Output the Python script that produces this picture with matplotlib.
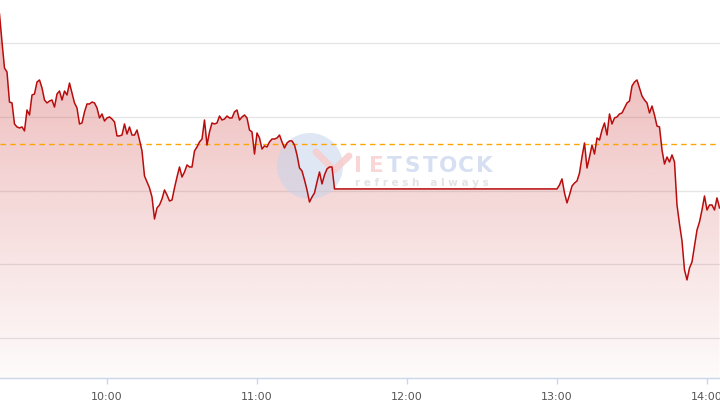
import numpy as np
import matplotlib
matplotlib.use('Agg')
import matplotlib.pyplot as plt
from matplotlib.patches import Ellipse, Polygon

# Intraday index values, one per minute
morning_start = '09:17'
morning_prices = [
    1292.00, 1290.10, 1288.33, 1288.06, 1286.02, 1285.96, 1284.53, 1284.33, 1284.26, 1284.33,
    1284.06, 1285.48, 1285.14, 1286.50, 1286.57, 1287.38, 1287.52, 1286.98, 1286.16, 1285.96,
    1286.09, 1286.16, 1285.68, 1286.57, 1286.77, 1286.16, 1286.77, 1286.50, 1287.31, 1286.64,
    1285.96, 1285.62, 1284.53, 1284.60, 1285.35, 1285.89, 1285.89, 1286.02, 1285.96, 1285.62,
    1284.94, 1285.21, 1284.73, 1284.94, 1285.01, 1284.87, 1284.67, 1283.72, 1283.72, 1283.78,
    1284.53, 1283.85, 1284.33, 1283.78, 1283.78, 1284.12, 1283.44, 1282.70, 1281.00, 1280.59,
    1280.19, 1279.57, 1278.08, 1278.83, 1279.03, 1279.44, 1280.05, 1279.71, 1279.30, 1279.37,
    1280.19, 1280.93, 1281.61, 1280.93, 1281.27, 1281.75, 1281.61, 1281.61, 1282.70, 1282.97,
    1283.31, 1283.51, 1284.80, 1283.10, 1283.99, 1284.60, 1284.53, 1284.60, 1285.07, 1284.80,
    1284.87, 1285.07, 1284.94, 1284.94, 1285.35, 1285.48, 1284.80, 1285.01, 1285.14, 1284.94,
    1284.12, 1283.99, 1282.49, 1283.92, 1283.58, 1282.83, 1283.04, 1282.97, 1283.31, 1283.51,
    1283.51, 1283.58, 1283.78, 1283.31, 1282.90, 1283.24, 1283.38, 1283.38, 1283.10, 1282.43,
    1281.54, 1281.34, 1280.73, 1280.05, 1279.23, 1279.57, 1279.85, 1280.59, 1281.27, 1280.46,
    1281.07, 1281.48, 1281.61, 1281.61, 1280.12,
]
afternoon_start = '13:00'
afternoon_prices = [
    1280.12, 1280.39, 1280.80, 1279.85, 1279.17, 1279.71, 1280.32, 1280.52, 1280.66, 1281.20,
    1282.29, 1283.24, 1281.54, 1282.29, 1283.10, 1282.49, 1283.58, 1283.44, 1284.12, 1284.60,
    1283.78, 1285.21, 1284.53, 1284.94, 1285.01, 1285.21, 1285.28, 1285.62, 1285.96, 1286.09,
    1287.11, 1287.38, 1287.52, 1286.98, 1286.43, 1286.16, 1285.96, 1285.28, 1285.75, 1285.14,
    1284.39, 1284.33, 1282.77, 1281.81, 1282.29, 1281.95, 1282.43, 1281.95, 1279.03, 1277.74,
    1276.59, 1274.62, 1273.94, 1274.75, 1275.16, 1276.25, 1277.33, 1277.88, 1278.69, 1279.64,
    1278.69, 1279.03, 1279.03, 1278.69, 1279.51, 1278.83,
]
reference_price = 1283.17
grid_levels = [1270, 1275, 1280, 1285, 1290]
tick_labels = ['10:00', '11:00', '12:00', '13:00', '14:00']


def to_minutes(s):
    h, m = s.split(':')
    return int(h) * 60 + int(m)


t_morning = to_minutes(morning_start) + np.arange(len(morning_prices))
t_afternoon = to_minutes(afternoon_start) + np.arange(len(afternoon_prices))
times = np.concatenate([t_morning, t_afternoon]).astype(float)
prices = np.array(morning_prices + afternoon_prices)

x_min, x_max = 557.2, 845.2
y_min, y_max = 1267.28, 1292.95

fig = plt.figure(figsize=(7.2, 4.16), dpi=100)
ax = fig.add_axes([0, 38 / 416, 1, 1 - 38 / 416])
ax.set_xlim(x_min, x_max)
ax.set_ylim(y_min, y_max)

# gridlines
for g in grid_levels:
    ax.axhline(g, color='#e6e6e6', lw=1, zorder=1)

# gradient fill under the line
verts = [(times[0], y_min)] + list(zip(times, prices)) + [(times[-1], y_min)]
poly = Polygon(verts, closed=True, facecolor='none', edgecolor='none')
ax.add_patch(poly)
alpha = np.linspace(0.36, 0.02, 256)
grad = np.zeros((256, 1, 4))
grad[:, 0, 0] = 200 / 255
grad[:, 0, 1] = 40 / 255
grad[:, 0, 2] = 40 / 255
grad[:, 0, 3] = alpha
img = ax.imshow(grad, extent=[x_min, x_max, y_min, y_max], origin='upper',
                aspect='auto', zorder=2)
img.set_clip_path(poly)

# watermark logo
tf = fig.transFigure
ax.add_artist(Ellipse((310 / 720, 1 - 166 / 416), 66 / 720, 66 / 416, transform=tf,
                      facecolor=(0.78, 0.83, 0.92), alpha=0.55, edgecolor='none', zorder=3))
ax.plot([316 / 720, 334 / 720, 349 / 720], [1 - 152 / 416, 1 - 170 / 416, 1 - 156 / 416],
        transform=tf, color=(0.97, 0.80, 0.80), lw=5, alpha=0.85, zorder=3,
        solid_capstyle='round')
letters = 'IETSTOCK'
for i, ch in enumerate(letters):
    col = (0.98, 0.84, 0.84) if i < 2 else (0.84, 0.88, 0.95)
    fig.text((358 + i * 18.0) / 720, 1 - 166 / 416, ch, color=col, fontsize=15.5,
             fontweight='bold', ha='center', va='center', zorder=3)
fig.text(422 / 720, 1 - 183 / 416, ' '.join('refresh always'), color=(0.89, 0.89, 0.89),
         fontsize=7.5, fontweight='bold', ha='center', va='center', zorder=3)

# reference line and price line
ax.axhline(reference_price, color='#ffa500', lw=1, ls=(0, (4, 3)), zorder=4)
ax.plot(times, prices, color='#b80d0d', lw=1.1, zorder=5)

# axes styling
for side in ['top', 'left', 'right']:
    ax.spines[side].set_visible(False)
ax.spines['bottom'].set_color('#ccd6eb')
ax.spines['bottom'].set_linewidth(1)
ax.set_yticks([])
ax.set_xticks([to_minutes(s) for s in tick_labels])
ax.set_xticklabels(tick_labels)
ax.tick_params(axis='x', length=4, width=1, color='#ccd6eb', labelcolor='#555555',
               labelsize=8, pad=6)

fig.savefig('out.png', dpi=100)
